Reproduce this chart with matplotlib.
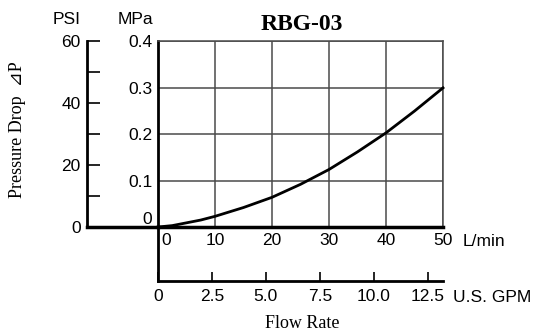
import matplotlib
matplotlib.use('Agg')
import matplotlib.pyplot as plt
from matplotlib.transforms import ScaledTranslation

# curve (L/min -> MPa)
flow_lpm = [0, 2.5, 5, 7.5, 10, 15, 20, 25, 30, 35, 40, 45, 50]
dp_mpa = [0, 0.003, 0.009, 0.015, 0.023, 0.042, 0.064, 0.092, 0.124, 0.162, 0.203, 0.25, 0.30]

lpm_ticks = [0, 10, 20, 30, 40, 50]
mpa_ticks = [0, 0.1, 0.2, 0.3, 0.4]
mpa_labels = ['0', '0.1', '0.2', '0.3', '0.4']
psi_major = [0, 20, 40, 60]
psi_minor = [10, 30, 50]
gpm_ticks = [0, 2.5, 5.0, 7.5, 10.0, 12.5]
gpm_labels = ['0', '2.5', '5.0', '7.5', '10.0', '12.5']
LPM_PER_GPM = 3.78541

W, H = 544, 333
sans = 'Liberation Sans'
serif = ['Liberation Serif', 'DejaVu Sans']
fs = 12.5

fig = plt.figure(figsize=(W / 100, H / 100), dpi=100)

def box(x0, y0, x1, y1):
    # pixel box (top-left origin) -> figure fraction rect
    return [x0 / W, 1 - y1 / H, (x1 - x0) / W, (y1 - y0) / H]

# main grid in MPa vs L/min
ax = fig.add_axes(box(158, 41.5, 443, 227))
ax.plot(flow_lpm, dp_mpa, color='black', lw=2, clip_on=False, zorder=5)
ax.set_xlim(0, 50)
ax.set_ylim(0, 0.4)
ax.set_xticks(lpm_ticks)
ax.set_xticklabels([str(v) for v in lpm_ticks], fontsize=fs, family=sans)
ax.set_yticks(mpa_ticks)
ax.set_yticklabels(mpa_labels, fontsize=fs, family=sans)
ax.tick_params(axis='x', length=0, pad=4)
ax.tick_params(axis='y', length=0, pad=4)
ax.grid(True, color='#4a4a4a', lw=1.1)
for s in ['top', 'right']:
    ax.spines[s].set_color('#4a4a4a')
    ax.spines[s].set_linewidth(1.1)
ax.spines['left'].set_linewidth(2)
ax.spines['bottom'].set_linewidth(2.5)

# nudge the two "0" labels off the corner
xl0 = ax.xaxis.get_major_ticks()[0].label1
xl0.set_transform(xl0.get_transform() + ScaledTranslation(0.08, 0, fig.dpi_scale_trans))
yl0 = ax.yaxis.get_major_ticks()[0].label1
yl0.set_transform(yl0.get_transform() + ScaledTranslation(0, 0.09, fig.dpi_scale_trans))

# PSI scale on the left
ap = fig.add_axes(box(87, 41.5, 158, 227))
ap.patch.set_visible(False)
ap.set_ylim(0, 60)
ap.set_xlim(0, 1)
ap.set_xticks([])
ap.set_yticks(psi_major)
ap.set_yticks(psi_minor, minor=True)
ap.set_yticklabels([str(v) for v in psi_major], fontsize=fs, family=sans)
ap.tick_params(axis='y', which='both', direction='in', length=9.5, width=1.2, pad=4.5)
for s in ['top', 'right']:
    ap.spines[s].set_visible(False)
ap.spines['left'].set_linewidth(2)
ap.spines['bottom'].set_linewidth(2.5)

# U.S. GPM scale below
ag = fig.add_axes(box(158, 227, 443, 281))
ag.patch.set_visible(False)
ag.set_xlim(0, 50 / LPM_PER_GPM)
ag.set_yticks([])
ag.set_xticks(gpm_ticks)
ag.set_xticklabels(gpm_labels, fontsize=fs, family=sans)
ag.tick_params(axis='x', direction='in', length=6.5, width=1.2, pad=6)
for s in ['top', 'right']:
    ag.spines[s].set_visible(False)
ag.spines['left'].set_linewidth(2)
ag.spines['bottom'].set_linewidth(2)

# texts
fig.text(67 / W, 1 - 20 / H, 'PSI', ha='center', va='center', fontsize=fs, family=sans)
fig.text(135 / W, 1 - 20 / H, 'MPa', ha='center', va='center', fontsize=fs, family=sans)
fig.text(302 / W, 1 - 24 / H, 'RBG-03', ha='center', va='center', fontsize=17,
         family=serif, fontweight='bold')
fig.text(463 / W, 1 - 241 / H, 'L/min', ha='left', va='center', fontsize=fs, family=sans)
fig.text(453 / W, 1 - 297 / H, 'U.S. GPM', ha='left', va='center', fontsize=fs, family=sans)
fig.text(302 / W, 1 - 323 / H, 'Flow Rate', ha='center', va='center', fontsize=13, family=serif)
fig.text(18 / W, 1 - 130 / H, 'Pressure Drop  \u22BFP', ha='center', va='center',
         rotation=90, fontsize=13, family=serif)

fig.savefig('out.png', dpi=100)
